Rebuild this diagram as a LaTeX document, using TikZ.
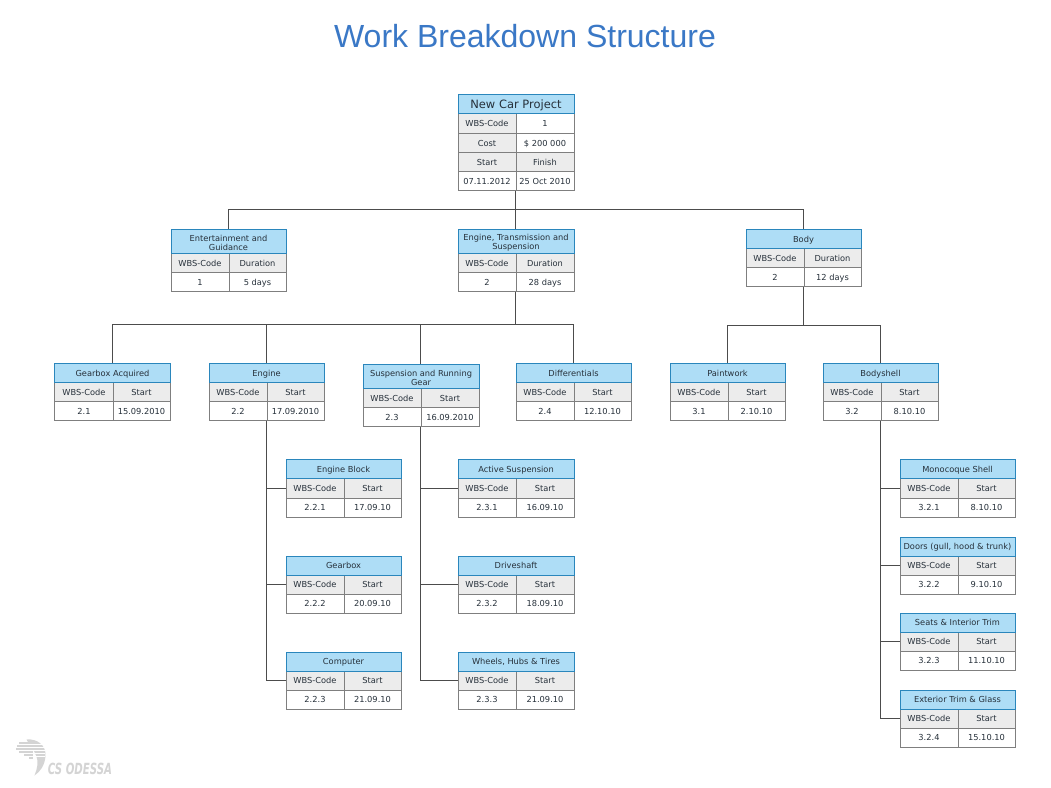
\documentclass[tikz,border=0pt]{standalone}
\usepackage{fontspec}
\setmainfont{DejaVu Sans}
\newfontfamily\titlefont{Liberation Sans}
\definecolor{headfill}{HTML}{AEDDF6}
\definecolor{headline}{HTML}{2A86BC}
\definecolor{cellgray}{HTML}{ECECEC}
\definecolor{cellline}{HTML}{7F7F7F}
\definecolor{wbstext}{HTML}{26303A}
\definecolor{titleblue}{HTML}{3A78C6}
\definecolor{logogray}{HTML}{D4D4D4}
\def\pxu{0.75pt}
\def\bw{115}
\newcommand\hstrut{\rule{0pt}{5.8pt}\rule[-1.3pt]{0pt}{1.3pt}}
\tikzset{
  cellbase/.style={anchor=north west,inner sep=0pt,draw=cellline,line width=0.75pt,text=wbstext,align=center,font=\fontsize{6.2pt}{7pt}\selectfont,minimum height=19*\pxu,text height=5pt,text depth=0.5pt},
  graycell/.style={cellbase,fill=cellgray},
  whitecell/.style={cellbase,fill=white},
  headcell/.style={anchor=north west,inner sep=0pt,draw=headline,line width=0.75pt,fill=headfill,text=wbstext,align=center,font=\fontsize{6.2pt}{7.2pt}\selectfont},
  outerbox/.style={anchor=north west,inner sep=0pt,draw=none},
  conn/.style={draw=black!70,line width=0.75pt},
  maintitle/.style={text=titleblue,font=\titlefont\fontsize{24pt}{30pt}\selectfont,inner sep=0pt},
  logotext/.style={text=logogray,font=\bfseries\itshape\fontsize{11.5pt}{12pt}\selectfont,inner sep=0pt,anchor=west},
}
% name, x, y, header height, title, c1, c2, c3, c4 (labels top row, values bottom row)
\newcommand\wbs[8]{%
  \node[outerbox,minimum width=\bw*\pxu,minimum height=(#4+38)*\pxu] (#1) at (#2,#3) {};
  \node[graycell,minimum width=58*\pxu] (#1-a) at (#2,{#3+#4}) {WBS-Code};
  \node[graycell,minimum width=(\bw-58)*\pxu] (#1-b) at ({#2+58},{#3+#4}) {#6};
  \node[whitecell,minimum width=58*\pxu] (#1-c) at (#2,{#3+#4+19}) {#7};
  \node[whitecell,minimum width=(\bw-58)*\pxu] (#1-d) at ({#2+58},{#3+#4+19}) {#8};
  \node[headcell,minimum width=\bw*\pxu,minimum height=#4*\pxu] (#1-h) at (#2,#3) {\hstrut #5};
}
\begin{document}
\begin{tikzpicture}[x=0.75pt,y=-0.75pt]
\useasboundingbox[fill=white] (0.5,0.5) rectangle (1051.5,788.5);
\node[maintitle] (title) at (525.5,36.5) {Work Breakdown Structure};

% root
\node[outerbox,minimum width=116*\pxu,minimum height=96*\pxu] (root) at (458,95) {};
\node[graycell,minimum width=58*\pxu,minimum height=20*\pxu] (r1) at (458,114) {WBS-Code};
\node[whitecell,minimum width=58*\pxu,minimum height=20*\pxu] (r2) at (516,114) {1};
\node[graycell,minimum width=58*\pxu] (r3) at (458,134) {Cost};
\node[whitecell,minimum width=58*\pxu] (r4) at (516,134) {\$ 200 000};
\node[graycell,minimum width=58*\pxu] (r5) at (458,153) {Start};
\node[graycell,minimum width=58*\pxu] (r6) at (516,153) {Finish};
\node[whitecell,minimum width=58*\pxu] (r7) at (458,172) {07.11.2012};
\node[whitecell,minimum width=58*\pxu] (r8) at (516,172) {25 Oct 2010};
\node[headcell,minimum width=116*\pxu,minimum height=19*\pxu,font=\fontsize{8.6pt}{10pt}\selectfont] (r0) at (458,95) {\rule{0pt}{7.6pt}\rule[-1.9pt]{0pt}{1.9pt}New Car Project};

% level 2
\wbs{ent}{171}{230}{24}{Entertainment and\\Guidance}{Duration}{1}{5 days}
\def\bw{116}
\wbs{etr}{458}{230}{24}{Engine, Transmission and\\Suspension}{Duration}{2}{28 days}
\def\bw{115}
\wbs{body}{746}{230}{19}{Body}{Duration}{2}{12 days}

% level 3
\wbs{gacq}{55}{364}{19}{Gearbox Acquired}{Start}{2.1}{15.09.2010}
\wbs{engine}{209}{364}{19}{Engine}{Start}{2.2}{17.09.2010}
\def\bw{116}
\wbs{susp}{363}{365}{24}{Suspension and Running\\Gear}{Start}{2.3}{16.09.2010}
\def\bw{115}
\wbs{diff}{516}{364}{19}{Differentials}{Start}{2.4}{12.10.10}
\wbs{paint}{670}{364}{19}{Paintwork}{Start}{3.1}{2.10.10}
\wbs{shell}{823}{364}{19}{Bodyshell}{Start}{3.2}{8.10.10}

% level 4
\wbs{eb}{286}{460}{19}{Engine Block}{Start}{2.2.1}{17.09.10}
\wbs{gb}{286}{556}{19}{Gearbox}{Start}{2.2.2}{20.09.10}
\wbs{comp}{286}{652}{19}{Computer}{Start}{2.2.3}{21.09.10}
\def\bw{116}
\wbs{act}{458}{460}{19}{Active Suspension}{Start}{2.3.1}{16.09.10}
\wbs{drv}{458}{556}{19}{Driveshaft}{Start}{2.3.2}{18.09.10}
\wbs{whl}{458}{652}{19}{Wheels, Hubs \& Tires}{Start}{2.3.3}{21.09.10}
\def\bw{115}
\wbs{mono}{900}{460}{19}{Monocoque Shell}{Start}{3.2.1}{8.10.10}
\wbs{door}{900}{537}{19}{Doors (gull, hood \& trunk)}{Start}{3.2.2}{9.10.10}
\wbs{seat}{900}{613}{19}{Seats \& Interior Trim}{Start}{3.2.3}{11.10.10}
\wbs{ext}{900}{690}{19}{Exterior Trim \& Glass}{Start}{3.2.4}{15.10.10}

% connectors
\draw[conn] (root.south) -- (etr.north);
\draw[conn] (root.south) -- ++(0,18) -| (ent.north);
\draw[conn] (root.south) -- ++(0,18) -| (body.north);
\foreach \t in {gacq,engine,susp,diff}
  \draw[conn] (etr.south) -- ++(0,32) -| (\t.north);
\foreach \t in {paint,shell}
  \draw[conn] (body.south) -- ++(0,38) -| (\t.north);
\foreach \t in {eb,gb,comp}
  \draw[conn] (engine.south) |- (\t.west);
\foreach \t in {act,drv,whl}
  \draw[conn] (susp.south) |- (\t.west);
\foreach \t in {mono,door,seat,ext}
  \draw[conn] (shell.south) |- (\t.west);

% logo
\fill[logogray] (27,740) .. controls (38,739) and (47,746) .. (46,757)
  .. controls (45,766) and (41,772) .. (35,776)
  .. controls (38,769) and (39,762) .. (37,757)
  .. controls (35,751) and (30,746) .. (27,740) -- cycle;
\foreach \yy/\xx in {743.5/20,746.5/18,749.5/17,752.5/20,755.5/25,758.5/30}
  \draw[logogray,line width=0.8pt] (\xx,\yy) -- (34,\yy);
\foreach \yy in {745,748,751,754,757}
  \draw[white,line width=0.5pt] (26,\yy) -- (46,\yy);
\node[logotext] (logo) at (48,769.5) {\scalebox{0.665}[1]{CS ODESSA}};
\end{tikzpicture}
\end{document}
